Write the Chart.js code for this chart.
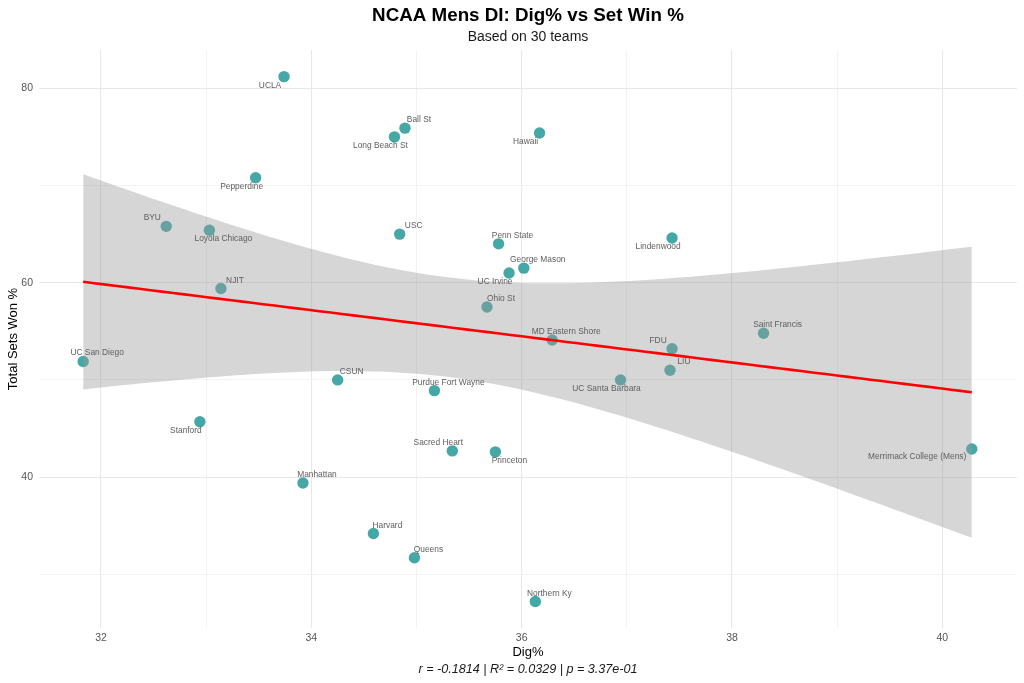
<!DOCTYPE html>
<html><head><meta charset="utf-8">
<script src="https://cdn.jsdelivr.net/npm/chart.js@4.4.1/dist/chart.umd.min.js"></script>
<style>html,body{margin:0;padding:0;background:#fff;} #wrap{width:1024px;height:683px;position:relative;}</style>
</head><body><div id="wrap"><canvas id="c"></canvas></div>
<script>
// ---- data ----
const teams = ["UCLA","Ball St","Long Beach St","Pepperdine","BYU","Loyola Chicago","USC","Penn State","UC Irvine","George Mason",
  "NJIT","Hawaii","Lindenwood","Ohio St","UC San Diego","CSUN","Purdue Fort Wayne","Stanford","Sacred Heart","Princeton",
  "Manhattan","Harvard","Queens","MD Eastern Shore","FDU","LIU","UC Santa Barbara","Saint Francis","Merrimack College (Mens)","Northern Ky"];
const digPct = [33.74,34.89,34.79,33.47,32.62,33.03,34.84,35.78,35.88,36.02,
  33.14,36.17,37.43,35.67,31.83,34.25,35.17,32.94,35.34,35.75,
  33.92,34.59,34.98,36.29,37.43,37.41,36.94,38.30,40.28,36.13];
const setWinPct = [81.2,75.9,75.0,70.8,65.8,65.4,65.0,64.0,61.0,61.5,
  59.4,75.4,64.6,57.5,51.9,50.0,48.9,45.7,42.7,42.6,
  39.4,34.2,31.7,54.1,53.2,51.0,50.0,54.8,42.9,27.2];
const xTickLabels = [32,34,36,38,40];
const yTickLabels = [40,60,80];
const titleText = "NCAA Mens DI: Dig% vs Set Win %";
const subtitleText = "Based on 30 teams";
const xTitle = "Dig%";
const yTitle = "Total Sets Won %";
const captionText = "r = -0.1814 | R\u00b2 = 0.0329 | p = 3.37e-01";

// label placement (style): side of the point where each label sits
const labelSide = ["sw","ne","sw","sw","nw","se","ne","ne","sw","ne",
  "ne","sw","sw","ne","ne","ne","ne","sw","nw","se",
  "ne","ne","ne","ne","nw","ne","sw","ne","far-w","ne"];

// ---- linear fit (as geom_smooth(method = "lm")) ----
const n = digPct.length;
const mx = digPct.reduce((a,b)=>a+b,0)/n;
const my = setWinPct.reduce((a,b)=>a+b,0)/n;
let sxx=0, sxy=0;
for (let i=0;i<n;i++){ sxx += (digPct[i]-mx)**2; sxy += (digPct[i]-mx)*(setWinPct[i]-my); }
const slope = sxy/sxx, icpt = my - slope*mx;
let sse=0; for (let i=0;i<n;i++){ sse += (setWinPct[i]-(icpt+slope*digPct[i]))**2; }
const sres = Math.sqrt(sse/(n-2));
const tcrit = 2.0484; // qt(0.975, 28)
const xmin = Math.min(...digPct), xmax = Math.max(...digPct);
const fitX = []; for (let k=0;k<80;k++) fitX.push(xmin + (xmax-xmin)*k/79);
const fitLine = fitX.map(x=>({x, y: icpt+slope*x}));
const bandHi = fitX.map(x=>{const se=sres*Math.sqrt(1/n+(x-mx)**2/sxx); return {x, y: icpt+slope*x+tcrit*se};});
const bandLo = fitX.map(x=>{const se=sres*Math.sqrt(1/n+(x-mx)**2/sxx); return {x, y: icpt+slope*x-tcrit*se};});

const FONT = "'Liberation Sans', Arial, Helvetica, sans-serif";

const labelPlugin = {
  id: 'teamLabels',
  afterDatasetsDraw(chart) {
    const ctx = chart.ctx, xs = chart.scales.x, ys = chart.scales.y;
    ctx.save();
    ctx.font = "8.4px " + FONT;
    ctx.fillStyle = "#5e5e5e";
    ctx.textAlign = "center";
    ctx.textBaseline = "middle";
    teams.forEach((t,i)=>{
      const px = xs.getPixelForValue(digPct[i]), py = ys.getPixelForValue(setWinPct[i]);
      let dx=14, dy=-8.3;
      const s = labelSide[i];
      if (s==="sw"){dx=-14; dy=8.6;}
      else if (s==="nw"){dx=-14; dy=-8.3;}
      else if (s==="se"){dx=14; dy=8.4;}
      else if (s==="far-w"){dx=-54.6; dy=8;}
      ctx.fillText(t, px+dx, py+dy);
    });
    ctx.restore();
  }
};

const decorPlugin = {
  id: 'decor',
  afterDraw(chart) {
    const ctx = chart.ctx, ca = chart.chartArea;
    const cx = (ca.left + ca.right)/2;
    ctx.save();
    ctx.textAlign = "center";
    ctx.textBaseline = "alphabetic";
    ctx.fillStyle = "#000";
    ctx.font = "bold 18.8px " + FONT;
    ctx.fillText(titleText, cx, 21);
    ctx.fillStyle = "#1a1a1a";
    ctx.font = "14px " + FONT;
    ctx.fillText(subtitleText, cx, 40.5);
    ctx.fillStyle = "#000";
    ctx.font = "13px " + FONT;
    ctx.fillText(xTitle, cx, 656);
    ctx.font = "italic 12.6px " + FONT;
    ctx.fillStyle = "#1a1a1a";
    ctx.fillText(captionText, cx, 673);
    ctx.translate(16.5, (ca.top+ca.bottom)/2);
    ctx.rotate(-Math.PI/2);
    ctx.fillStyle = "#000";
    ctx.font = "13px " + FONT;
    ctx.fillText(yTitle, 0, 0);
    ctx.restore();
  }
};

const points = digPct.map((x,i)=>({x, y:setWinPct[i]}));

new Chart(document.getElementById('c'), {
  type: 'scatter',
  data: { datasets: [
    { label:'teams', data: points, order: 3, backgroundColor: 'rgba(38,153,150,0.85)', borderWidth: 0, pointRadius: 5.7, pointHoverRadius: 5.7 },
    { label:'hi', data: bandHi, order: 2, showLine: true, pointRadius: 0, borderWidth: 0, borderColor:'rgba(0,0,0,0)', backgroundColor: 'rgba(153,153,153,0.4)', fill: '+1', tension: 0 },
    { label:'lo', data: bandLo, order: 2, showLine: true, pointRadius: 0, borderWidth: 0, borderColor:'rgba(0,0,0,0)', fill: false, tension: 0 },
    { label:'fit', data: fitLine, order: 1, showLine: true, pointRadius: 0, borderWidth: 2.6, borderColor: '#ff0000', fill: false, tension: 0 }
  ]},
  options: {
    responsive: true, maintainAspectRatio: false, animation: false,
    layout: { padding: { left: 0, top: 50, right: 7, bottom: 0 } },
    plugins: { legend: { display: false }, tooltip: { enabled: false }, title: { display: false } },
    events: [],
    scales: {
      x: {
        type: 'linear', min: 31.41, max: 40.71,
        afterBuildTicks: s => { const t=[]; for (let v=32; v<=40; v++) t.push({value:v}); s.ticks = t; },
        afterFit: s => { s.height = 55; },
        border: { display: false },
        grid: { drawTicks: false, color: c => xTickLabels.includes(c.tick.value) ? '#e8e8e8' : '#f0f0f0',
                lineWidth: c => xTickLabels.includes(c.tick.value) ? 1.1 : 0.8 },
        ticks: { padding: 4, color: '#555', font: { family: FONT, size: 10.5 }, maxRotation: 0, autoSkip: false,
                 callback: v => xTickLabels.includes(v) ? String(v) : '' }
      },
      y: {
        type: 'linear', min: 24.48, max: 83.94,
        afterBuildTicks: s => { s.ticks = [30,40,50,60,70,80].map(v=>({value:v})); },
        afterFit: s => { s.width = 39; },
        border: { display: false },
        grid: { drawTicks: false, color: c => yTickLabels.includes(c.tick.value) ? '#e8e8e8' : '#f0f0f0',
                lineWidth: c => yTickLabels.includes(c.tick.value) ? 1.1 : 0.8 },
        ticks: { padding: 6, color: '#555', font: { family: FONT, size: 10.5 }, autoSkip: false,
                 callback: v => yTickLabels.includes(v) ? String(v) : '' }
      }
    }
  },
  plugins: [labelPlugin, decorPlugin]
});
</script></body></html>
